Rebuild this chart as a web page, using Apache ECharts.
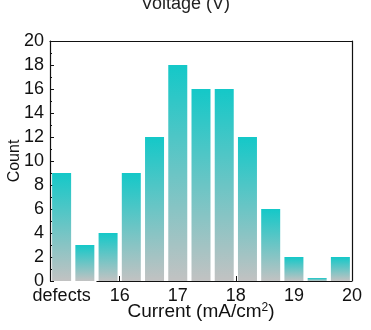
<!DOCTYPE html>
<html><head><meta charset="utf-8">
<script src="https://cdn.jsdelivr.net/npm/echarts@6/dist/echarts.min.js"></script>
<style>html,body{margin:0;padding:0;background:#fff}#c{width:371px;height:330px}</style>
</head><body><div id="c"></div>
<script>
const binCenters = [15.0, 15.4, 15.8, 16.2, 16.6, 17.0, 17.4, 17.8, 18.2, 18.6, 19.0, 19.4, 19.8];
const counts = [9, 3, 4, 9, 12, 18, 16, 16, 12, 6, 2, 0.25, 2];
const xTickValues = [15, 16, 17, 18, 19, 20];
const xTickLabels = ['defects', '16', '17', '18', '19', '20'];

const font = 'Liberation Sans, Arial, sans-serif';
const chart = echarts.init(document.getElementById('c'));
const minorX = [15.5, 16.5, 17.5, 18.5, 19.5];
chart.setOption({
  animation: false,
  title: { text: 'Voltage (V)', left: 'center', top: -10, textStyle: { fontFamily: font, fontSize: 18, fontWeight: 'normal', color: '#222' } },
  grid: { left: 50, right: 19, top: 41, bottom: 49, outerBoundsMode: 'none', containLabel: false },
  xAxis: [{
    type: 'value', min: 14.8, max: 20,
    name: 'Current (mA/cm{sup|2})', nameLocation: 'middle', nameGap: 21, nameMoveOverlap: false,
    nameTextStyle: { fontFamily: font, fontSize: 19, color: '#111',
      rich: { sup: { fontFamily: font, fontSize: 12, color: '#111', verticalAlign: 'top', padding: [0, 0, 8, 0] } } },
    axisLine: { show: false },
    splitLine: { show: false },
    axisTick: { show: true, inside: true, length: 5, customValues: xTickValues.slice(1), lineStyle: { color: '#111' } },
    axisLabel: { customValues: xTickValues, fontFamily: font, fontSize: 18, color: '#111', margin: 6,
      formatter: v => { const i = xTickValues.indexOf(Math.round(v * 10) / 10); return i >= 0 ? xTickLabels[i] : ''; } }
  }, {
    type: 'value', min: 14.8, max: 20, position: 'top',
    axisLine: { show: true, onZero: false, lineStyle: { color: '#111', width: 1.2 } },
    axisTick: { show: false }, axisLabel: { show: false }, splitLine: { show: false }
  }, {
    type: 'value', min: 14.8, max: 20, position: 'bottom',
    axisLine: { show: false }, splitLine: { show: false },
    axisTick: { show: true, inside: true, length: 3, customValues: minorX, lineStyle: { color: '#111' } },
    axisLabel: { show: false }
  }],
  yAxis: [{
    type: 'value', min: 0, max: 20, interval: 2,
    name: 'Count', nameLocation: 'middle', nameGap: 27, nameMoveOverlap: false,
    nameTextStyle: { fontFamily: font, fontSize: 16, color: '#111' },
    axisLine: { show: true, onZero: false, lineStyle: { color: '#111', width: 1.2 } },
    axisTick: { show: true, inside: true, length: 4, lineStyle: { color: '#111' } },
    minorTick: { show: true, splitNumber: 2, length: 2, lineStyle: { color: '#111' } },
    splitLine: { show: false },
    axisLabel: { fontFamily: font, fontSize: 18, color: '#111', margin: 6 }
  }, {
    type: 'value', min: 0, max: 20, position: 'right',
    axisLine: { show: true, onZero: false, lineStyle: { color: '#111', width: 1.2 } },
    axisTick: { show: false }, axisLabel: { show: false }, splitLine: { show: false }
  }],
  series: [{
    type: 'bar',
    barWidth: 19,
    data: binCenters.map((c, i) => [c, counts[i]]),
    itemStyle: {
      color: new echarts.graphic.LinearGradient(0, 0, 0, 1, [
        { offset: 0, color: '#14C8C8' },
        { offset: 1, color: '#C2C2C2' }
      ])
    },
    markLine: {
      silent: true, symbol: 'none', label: { show: false },
      lineStyle: { color: '#111', width: 1.2, type: 'solid' },
      data: [[{ coord: [15.6, 0] }, { coord: [20, 0] }]]
    }
  }]
});
</script></body></html>
